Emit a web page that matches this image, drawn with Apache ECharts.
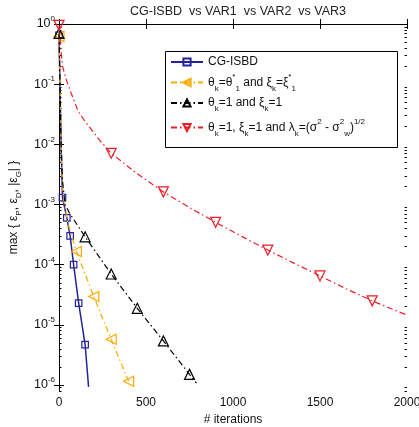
<!DOCTYPE html>
<html><head><meta charset="utf-8">
<script src="https://cdn.jsdelivr.net/npm/echarts@6/dist/echarts.min.js"></script>
<style>html,body{margin:0;padding:0;background:#fff}#c{width:419px;height:427px}</style>
</head><body><div id="c"></div>
<script>
// ---- data (iterations, error value) ----
const blueX = [0, 4, 8, 12, 16, 20, 45, 64, 84, 113, 150, 170];
const blueY = [0.65, 0.16, 0.04, 0.01, 0.0035, 1.3e-3, 6.0e-4, 3.0e-4, 1.0e-4, 2.3e-5, 4.7e-6, 9.3e-7];
const blueMark = [1, 0, 0, 0, 0, 1, 1, 1, 1, 1, 1, 0];

const orangeX = [0, 6, 12, 18, 25, 50, 100, 200, 300, 400];
const orangeY = [0.62, 0.1, 0.01, 3e-3, 1.3e-3, 5e-4, 1.66e-4, 2.95e-5, 5.75e-6, 1.15e-6];
const orangeMark = [1, 0, 0, 0, 0, 0, 1, 1, 1, 1];

const blackX = [0, 6, 12, 20, 35, 60, 150, 300, 450, 600, 750, 790];
const blackY = [0.7, 0.1, 0.01, 2.5e-3, 1.0e-3, 7.2e-4, 2.9e-4, 7e-5, 1.88e-5, 5.4e-6, 1.5e-6, 1.07e-6];
const blackMark = [1, 0, 0, 0, 0, 0, 1, 1, 1, 1, 1, 0];

const redX = [0, 10, 20, 45, 70, 110, 150, 233, 300, 450, 600, 750, 900, 1050, 1200, 1350, 1500, 1650, 1800, 2000];
const redY = [0.95, 0.4, 0.2, 0.112, 0.0708, 0.0355, 0.024, 0.01175, 7.1e-3, 3.24e-3, 1.62e-3, 8.9e-4, 5.06e-4, 2.95e-4, 1.75e-4, 1.06e-4, 6.5e-5, 3.98e-5, 2.5e-5, 1.45e-5];
const redMark = [1, 0, 0, 0, 0, 0, 0, 0, 1, 0, 1, 0, 1, 0, 1, 0, 1, 0, 1, 0];

const xTicks = [0, 500, 1000, 1500, 2000];
const yDecades = [-6, -5, -4, -3, -2, -1, 0];   // exponents of labelled ticks
const yMinLog = -6.1, yMaxLog = 0;

// ---- helpers ----
const FONT = '"Liberation Sans", Arial, Helvetica, sans-serif';
function toData(xs, ys, marks) {
  return xs.map((x, i) => {
    const d = { value: [x, Math.log10(ys[i])] };
    if (!marks[i]) d.symbol = 'none';
    return d;
  });
}
const minorTicks = [];
for (let d = -7; d <= 0; d++) {
  for (let k = 2; k <= 9; k++) {
    const v = d + Math.log10(k);
    if (v >= yMinLog && v <= yMaxLog) minorTicks.push(v);
  }
}
const BLUE = '#23239b', ORANGE = '#ffaa00', BLACK = '#000000', RED = '#ee1c25';
const DASHDOT = [6, 3, 1.5, 3];

const sub = { fontSize: 8, lineHeight: 9, verticalAlign: 'bottom', fontFamily: FONT, color: '#111' };
const sup = { fontSize: 8, lineHeight: 9, verticalAlign: 'top', fontFamily: FONT, color: '#111' };
const base = { fontSize: 12, lineHeight: 20, fontFamily: FONT, color: '#111' };
const legendRich = { t: base, sub: sub, sup: sup };

const names = ['CG-ISBD', 'VAR1', 'VAR2', 'VAR3'];
const legendText = {
  'CG-ISBD': '{t|CG-ISBD}',
  'VAR1': '{t|θ}{sub|k}{t|=θ}{sup|*}{sub|1}{t| and ξ}{sub|k}{t|=ξ}{sup|*}{sub|1}',
  'VAR2': '{t|θ}{sub|k}{t|=1 and ξ}{sub|k}{t|=1}',
  'VAR3': '{t|θ}{sub|k}{t|=1, ξ}{sub|k}{t|=1 and λ}{sub|k}{t|=(σ}{sup|2}{t| - σ}{sup|2}{sub|w}{t|)}{sup|1/2}'
};

function mkSeries(name, xs, ys, marks, color, symbol, rot, size, dash, width, z) {
  return {
    name: name, type: 'line', data: toData(xs, ys, marks),
    symbol: symbol, symbolSize: size, symbolRotate: rot, showAllSymbol: true,
    lineStyle: { color: color, width: width, type: dash },
    itemStyle: { color: 'rgba(255,255,255,0)', borderColor: color, borderWidth: 1.2 },
    emphasis: { disabled: true }, animation: false, z: z, clip: true
  };
}

const chart = echarts.init(document.getElementById('c'), null, { renderer: 'canvas' });
const yBase = { type: 'value', min: yMinLog, max: yMaxLog, splitLine: { show: false } };
chart.setOption({
  animation: false,
  backgroundColor: '#fff',
  title: {
    text: 'CG-ISBD  vs VAR1  vs VAR2  vs VAR3', left: 233, top: 0, textAlign: 'center',
    textStyle: { fontFamily: FONT, fontSize: 12.5, fontWeight: 'normal', color: '#222' }
  },
  grid: { left: 59, right: 12, top: 24, bottom: 36, containLabel: false, outerBoundsMode: 'none' },
  xAxis: [
    { type: 'value', min: 0, max: 2000, interval: 500, position: 'bottom',
      axisLine: { show: true, lineStyle: { color: '#000', width: 1 } },
      axisTick: { inside: true, length: 5, customValues: xTicks, lineStyle: { color: '#000' } },
      axisLabel: { customValues: xTicks, formatter: v => String(v), fontFamily: FONT, fontSize: 12, color: '#111', margin: 6 },
      splitLine: { show: false },
      name: '# iterations', nameLocation: 'middle', nameGap: 17,
      nameTextStyle: { fontFamily: FONT, fontSize: 12, color: '#111' } },
    { type: 'value', min: 0, max: 2000, interval: 500, position: 'top',
      axisLine: { show: true, lineStyle: { color: '#000', width: 1 } },
      axisTick: { inside: true, length: 5, customValues: xTicks, lineStyle: { color: '#000' } },
      axisLabel: { show: false }, splitLine: { show: false } }
  ],
  yAxis: [
    Object.assign({}, yBase, { position: 'left',
      axisLine: { show: true, lineStyle: { color: '#000', width: 1 } },
      axisTick: { inside: true, length: 5, customValues: yDecades, lineStyle: { color: '#000' } },
      axisLabel: { customValues: yDecades, margin: 4, color: '#111',
        formatter: v => '{b|10}{s|' + Math.round(v) + '}',
        rich: { b: { fontSize: 12.5, lineHeight: 18, fontFamily: FONT, color: '#111' },
                s: { fontSize: 8, lineHeight: 8, verticalAlign: 'top', fontFamily: FONT, color: '#111' } } },
      name: '{t|max { ε}{sub|P}{t|, ε}{sub|D}{t|, |ε}{sub|G}{t|| }}', nameLocation: 'middle', nameGap: 34, nameRotate: 90,
      nameTextStyle: { rich: { t: { fontSize: 12, lineHeight: 18, fontFamily: FONT, color: '#111' },
                               sub: { fontSize: 8, lineHeight: 9, verticalAlign: 'bottom', fontFamily: FONT, color: '#111' } } } }),
    Object.assign({}, yBase, { position: 'right',
      axisLine: { show: true, lineStyle: { color: '#000', width: 1 } },
      axisTick: { inside: true, length: 5, customValues: yDecades, lineStyle: { color: '#000' } },
      axisLabel: { show: false } }),
    Object.assign({}, yBase, { position: 'left',
      axisLine: { show: false },
      axisTick: { inside: true, length: 2.5, customValues: minorTicks, lineStyle: { color: '#000' } },
      axisLabel: { show: false } }),
    Object.assign({}, yBase, { position: 'right',
      axisLine: { show: false },
      axisTick: { inside: true, length: 2.5, customValues: minorTicks, lineStyle: { color: '#000' } },
      axisLabel: { show: false } })
  ],
  graphic: [{ type: 'rect', shape: { x: 165.5, y: 51.5, width: 232, height: 96 },
              style: { fill: '#fff', stroke: '#000', lineWidth: 1 }, z: 90 }],
  legend: {
    orient: 'vertical', left: 170, top: 56, padding: 0, itemGap: 4.5,
    itemWidth: 32, itemHeight: 9, z: 100,
    data: names,
    formatter: n => legendText[n],
    textStyle: { rich: legendRich, fontFamily: FONT, fontSize: 12 }
  },
  series: [
    mkSeries('CG-ISBD', blueX, blueY, blueMark, BLUE, 'rect', 0, 6.5, 'solid', 1.5, 2),
    mkSeries('VAR1', orangeX, orangeY, orangeMark, ORANGE, 'triangle', 90, 10, DASHDOT, 1.2, 3),
    mkSeries('VAR2', blackX, blackY, blackMark, BLACK, 'triangle', 0, 10, DASHDOT, 1.2, 4),
    mkSeries('VAR3', redX, redY, redMark, RED, 'triangle', 180, 10, DASHDOT, 1.2, 5)
  ]
});
</script></body></html>
